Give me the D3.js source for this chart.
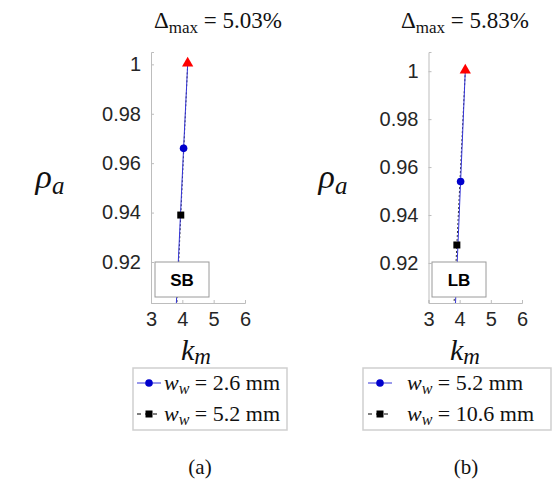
<!DOCTYPE html>
<html>
<head>
<meta charset="utf-8">
<script src="https://cdn.jsdelivr.net/npm/d3@7"></script>
<style>
body{margin:0;background:#fff}
.tick text{font-family:"Liberation Sans",Arial,sans-serif;font-size:20px;fill:#262626}
.axis path,.axis line{stroke:#bdbdbd}
.math{font-family:"Liberation Serif","DejaVu Serif",serif;fill:#111}
</style>
</head>
<body>
<script>
// values
var xTicks = [3,4,5,6];
var yTicks = [0.92,0.94,0.96,0.98,1];

var blueA = [{k:4.17,r:1},{k:4.04,r:0.966},{k:3.76,r:0.89}];
var blackA = [{k:4.17,r:1},{k:3.95,r:0.939},{k:3.78,r:0.89}];
var blueB = [{k:4.18,r:1},{k:4.03,r:0.954},{k:3.84,r:0.895}];
var blackB = [{k:4.18,r:1},{k:3.91,r:0.9275},{k:3.79,r:0.895}];
var refPt = [{k:4.17,r:1}];
var refPtB = [{k:4.18,r:1}];

var titles = ["5.03%","5.83%"];
var boxes = ["SB","LB"];
var legA = ["2.6 mm","5.2 mm"];
var legB = ["5.2 mm","10.6 mm"];

var svg = d3.select("body").append("svg").attr("width",560).attr("height",494);

var panels = [
  {x0:151,x1:245,yd:[0.9034,1.005],blue:blueA,black:blackA,ref:refPt,title:titles[0],box:boxes[0],leg:legA,
   tc:218,rhoX:50,kx:196,lg:[133,287],lx:4,tx:31,lab:"(a)",labX:200,boxX:155},
  {x0:428.5,x1:522,yd:[0.9033,1.008],blue:blueB,black:blackB,ref:refPtB,title:titles[1],box:boxes[1],leg:legB,
   tc:465,rhoX:333,kx:465,lg:[363,551],lx:5,tx:44,lab:"(b)",labX:466,boxX:432}
];

panels.forEach(function(p,i){
  var x = d3.scaleLinear().domain([3,6]).range([p.x0,p.x1]);
  var y = d3.scaleLinear().domain(p.yd).range([303,52]);
  var g = svg.append("g");

  g.append("clipPath").attr("id","clip"+i).append("rect")
    .attr("x",p.x0).attr("y",52).attr("width",p.x1-p.x0).attr("height",251);

  var xAxis = d3.axisBottom(x).tickValues(xTicks).tickSize(-3).tickPadding(9).tickFormat(d3.format("d"));
  var yAxis = d3.axisLeft(y).tickValues(yTicks).tickSize(-3).tickPadding(10).tickFormat(function(d){return d==1?"1":d3.format(".2f")(d)});
  g.append("g").attr("class","axis").attr("transform","translate(0,303)").call(xAxis);
  g.append("g").attr("class","axis").attr("transform","translate("+p.x0+",0)").call(yAxis);
  g.selectAll(".axis .tick line").attr("stroke","#bdbdbd");

  var line = d3.line().x(function(d){return x(d.k)}).y(function(d){return y(d.r)});
  var plot = g.append("g").attr("clip-path","url(#clip"+i+")");
  plot.append("path").datum(p.black).attr("d",line).attr("fill","none")
    .attr("stroke","#333").attr("stroke-width",1).attr("stroke-dasharray","2,2");
  plot.append("path").datum(p.blue).attr("d",line).attr("fill","none")
    .attr("stroke","#3535d8").attr("stroke-width",1);
  plot.selectAll(".sq").data(p.black.slice(1)).enter().append("rect")
    .attr("x",function(d){return x(d.k)-3.5}).attr("y",function(d){return y(d.r)-3.5})
    .attr("width",7).attr("height",7).attr("fill","#000");
  plot.selectAll(".ci").data(p.blue.slice(1)).enter().append("circle")
    .attr("cx",function(d){return x(d.k)}).attr("cy",function(d){return y(d.r)}).attr("r",3.8).attr("fill","#0000cc");
  g.selectAll(".tri").data(p.ref).enter().append("path")
    .attr("d",d3.symbol().type(d3.symbolTriangle).size(55))
    .attr("transform",function(d){return "translate("+x(d.k)+","+(y(d.r)-1)+")"})
    .attr("fill","#ff0000");

  // SB / LB box
  g.append("rect").attr("x",p.boxX).attr("y",262).attr("width",54).attr("height",35)
    .attr("fill","#fff").attr("stroke","#9a9a9a").attr("stroke-width",1);
  g.append("text").attr("x",p.boxX+27).attr("y",286).attr("text-anchor","middle")
    .style("font-family","Liberation Sans,Arial,sans-serif").style("font-weight","bold").style("font-size","17px")
    .text(p.box);

  // title
  var t = g.append("text").attr("class","math").attr("x",p.tc).attr("y",28).attr("text-anchor","middle").style("font-size","23px");
  t.append("tspan").text("Δ");
  t.append("tspan").attr("dy",5).style("font-size","17px").text("max");
  t.append("tspan").attr("dy",-5).text(" = "+p.title);

  // y label
  var r = g.append("text").attr("class","math").attr("x",p.rhoX).attr("y",188).attr("text-anchor","middle").style("font-size","34px").style("font-style","italic");
  r.append("tspan").text("ρ");
  r.append("tspan").attr("dy",6).style("font-size","25px").text("a");

  // x label
  var kl = g.append("text").attr("class","math").attr("x",p.kx).attr("y",360).attr("text-anchor","middle").style("font-size","30px").style("font-style","italic");
  kl.append("tspan").text("k");
  kl.append("tspan").attr("dy",4).style("font-size","23px").text("m");

  // legend
  g.append("rect").attr("x",p.lg[0]).attr("y",368).attr("width",p.lg[1]-p.lg[0]).attr("height",62)
    .attr("fill","#fff").attr("stroke","#cfcfcf").attr("stroke-width",1.5);
  p.leg.forEach(function(s,j){
    var ly = 383+j*31;
    var lx = p.lg[0]+p.lx;
    if(j==0){
      g.append("line").attr("x1",lx).attr("x2",lx+24).attr("y1",ly).attr("y2",ly).attr("stroke","#3535d8");
      g.append("circle").attr("cx",lx+12).attr("cy",ly).attr("r",3.8).attr("fill","#0000cc");
    } else {
      g.append("line").attr("x1",lx).attr("x2",lx+24).attr("y1",ly).attr("y2",ly).attr("stroke","#000").attr("stroke-dasharray","4,4");
      g.append("rect").attr("x",lx+8.5).attr("y",ly-3.5).attr("width",7).attr("height",7).attr("fill","#000");
    }
    var tx = g.append("text").attr("class","math").attr("x",p.lg[0]+p.tx).attr("y",ly+7).style("font-size","22px");
    tx.append("tspan").style("font-style","italic").text("w");
    tx.append("tspan").attr("dy",4).style("font-style","italic").style("font-size","16px").text("w");
    tx.append("tspan").attr("dy",-4).text(" = "+s);
  });

  g.append("text").attr("class","math").attr("x",p.labX).attr("y",474).attr("text-anchor","middle").style("font-size","21px").text(p.lab);
});
</script>
</body>
</html>
